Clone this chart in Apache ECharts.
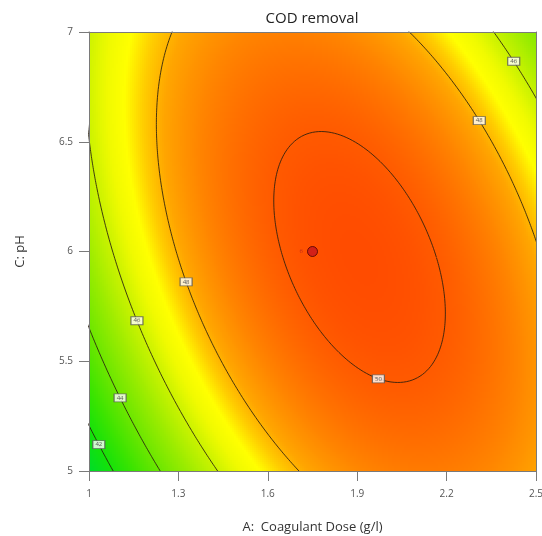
<!DOCTYPE html>
<html><head><meta charset="utf-8">
<script src="https://cdn.jsdelivr.net/npm/echarts@6/dist/echarts.min.js"></script>
<style>html,body{margin:0;padding:0;background:#fff}#chart{width:542px;height:536px}</style>
</head><body><div id="chart"></div>
<script>
// ---------- values ----------
const chartTitle = 'COD removal';
const xAxisTitle = 'A:  Coagulant Dose (g/l)';
const yAxisTitle = 'C: pH';
const xTicks = [1, 1.3, 1.6, 1.9, 2.2, 2.5];
const yTicks = [5, 5.5, 6, 6.5, 7];
const contourLevels = [42, 44, 46, 48, 50];
// points: A (g/l), pH, contour level
const obsA  = [1.282, 1.700, 2.075, 2.500, 1.327, 2.309,
               2.360, 2.500, 1.000, 1.430, 1.162, 2.426,
               1.000, 1.240, 1.108,
               1.000, 1.080, 1.036,
               1.617, 1.624, 1.658, 2.070, 2.107, 2.195, 2.178, 1.970, 1.842, 1.775];
const obsPH = [7.000, 5.000, 7.000, 6.050, 5.862, 6.595,
               7.000, 6.700, 6.500, 5.000, 5.685, 6.868,
               5.640, 5.000, 5.336,
               5.200, 5.000, 5.123,
               6.280, 6.140, 5.870, 6.235, 6.144, 5.780, 5.583, 5.430, 5.530, 6.530];
const obsLevel = [48, 48, 48, 48, 48, 48,
                  46, 46, 46, 46, 46, 46,
                  44, 44, 44,
                  42, 42, 42,
                  50, 50, 50, 50, 50, 50, 50, 50, 50, 50];
// contour label boxes (level, approximate A, pH)
const contourLabelLevels = [42, 44, 46, 48, 50, 48, 46];
const contourLabelA  = [1.036, 1.108, 1.162, 1.327, 1.970, 2.309, 2.426];
const contourLabelPH = [5.123, 5.336, 5.685, 5.862, 5.430, 6.595, 6.868];
// design (centre) point and its replicate count
const designPointA = [1.75];
const designPointPH = [6.0];
const designPointReps = [6];

// ---------- styling ----------
const colorStops = [[41,'#00dc28'],[42,'#14e10a'],[43,'#3ce400'],[44,'#69e600'],[45,'#96eb00'],
  [46,'#c8f200'],[46.7,'#f0fa00'],[47.2,'#ffff00'],[47.7,'#ffcd00'],[48.2,'#ffa500'],
  [49,'#ff8200'],[50,'#ff5a00'],[50.6,'#ff4600']];
const NX = 224, NY = 220;
const cx = designPointA[0], cy = designPointPH[0];

// ---------- least-squares quadratic surface through the contour readings ----------
function fitQuadratic() {
  const M = Array.from({length: 6}, () => new Array(7).fill(0));
  obsA.forEach((a, k) => {
    const x = a - cx, y = obsPH[k] - cy;
    const r = [1, x, y, x*x, y*y, x*y];
    for (let i = 0; i < 6; i++) {
      for (let j = 0; j < 6; j++) M[i][j] += r[i]*r[j];
      M[i][6] += r[i]*obsLevel[k];
    }
  });
  for (let i = 0; i < 6; i++) {
    let p = i;
    for (let k = i+1; k < 6; k++) if (Math.abs(M[k][i]) > Math.abs(M[p][i])) p = k;
    [M[i], M[p]] = [M[p], M[i]];
    for (let k = 0; k < 6; k++) {
      if (k === i) continue;
      const f = M[k][i] / M[i][i];
      for (let j = i; j < 7; j++) M[k][j] -= f*M[i][j];
    }
  }
  return M.map((row, i) => row[6] / row[i]);
}
const beta = fitQuadratic();
function response(A, pH) {
  const x = A - cx, y = pH - cy;
  return beta[0] + beta[1]*x + beta[2]*y + beta[3]*x*x + beta[4]*y*y + beta[5]*x*y;
}
// stationary point of the surface
const det = 4*beta[3]*beta[4] - beta[5]*beta[5];
const sx = (-2*beta[4]*beta[1] + beta[5]*beta[2]) / det;
const sy = (beta[5]*beta[1] - 2*beta[3]*beta[2]) / det;
const centre = [cx + sx, cy + sy];
const peak = response(centre[0], centre[1]);
function quad(u, v) { return -(beta[3]*u*u + beta[4]*v*v + beta[5]*u*v); }

const xMin = xTicks[0], xMax = xTicks[xTicks.length-1];
const yMin = yTicks[0], yMax = yTicks[yTicks.length-1];
const dA = (xMax - xMin) / NX, dP = (yMax - yMin) / NY;

const cells = [];
for (let i = 0; i < NX; i++) {
  const A = xMin + (i + 0.5) * dA;
  for (let j = 0; j < NY; j++) {
    const pH = yMin + (j + 0.5) * dP;
    cells.push([A, pH, response(A, pH)]);
  }
}

function hex2rgb(h){return [parseInt(h.slice(1,3),16),parseInt(h.slice(3,5),16),parseInt(h.slice(5,7),16)];}
function colorAt(val){
  for (let k = 0; k < colorStops.length-1; k++){
    const [v0,c0]=colorStops[k],[v1,c1]=colorStops[k+1];
    if (val <= v1 + 1e-9){
      const t=(val-v0)/(v1-v0), a=hex2rgb(c0), b=hex2rgb(c1);
      return 'rgb('+a.map((x,n)=>Math.round(x+(b[n]-x)*t)).join(',')+')';
    }
  }
  return colorStops[colorStops.length-1][1];
}
const vMin = colorStops[0][0], vMax = colorStops[colorStops.length-1][0];
const palette = [];
for (let v = vMin; v <= vMax + 1e-9; v += 0.1) palette.push(colorAt(v));

// contour lines = level sets of the fitted surface
const contourSeries = contourLevels.map(L => {
  const d = peak - L, pts = [];
  for (let k = 0; k <= 720; k++) {
    const t = k / 720 * 2 * Math.PI, cu = Math.cos(t), cv = Math.sin(t);
    const r = Math.sqrt(d / quad(cu, cv));
    pts.push([centre[0] + r*cu, centre[1] + r*cv]);
  }
  return {
    type: 'line', data: pts, showSymbol: false, symbol: 'none',
    clip: true, silent: true, z: 5, animation: false,
    lineStyle: { color: 'rgba(40,30,15,0.85)', width: 1 }
  };
});

const labelData = contourLabelLevels.map((L, k) => {
  const u = contourLabelA[k] - centre[0], v = contourLabelPH[k] - centre[1];
  const s = Math.sqrt((peak - L) / quad(u, v));
  return [centre[0] + s*u, centre[1] + s*v, L];
});

const axisGray = '#7a7a7a';
const option = {
  animation: false,
  textStyle: { fontFamily: 'Open Sans' },
  title: { text: chartTitle, left: 312, top: 11, textAlign: 'center', padding: 0,
    textStyle: { fontSize: 15, fontWeight: 'normal', color: '#222', fontFamily: 'Open Sans' } },
  grid: { left: 89, top: 32, width: 447, height: 439, show: false, outerBoundsMode: 'none', containLabel: false },
  visualMap: { type: 'continuous', show: false, seriesIndex: 0, dimension: 2, min: vMin, max: vMax, inRange: { color: palette } },
  xAxis: [
    { type: 'value', min: xMin, max: xMax, z: 10,
      name: xAxisTitle, nameLocation: 'middle', nameGap: 50,
      nameTextStyle: { fontSize: 13, color: '#333' },
      axisLine: { show: true, onZero: false, lineStyle: { color: axisGray } },
      axisTick: { show: true, length: 10, customValues: xTicks, lineStyle: { color: axisGray } },
      axisLabel: { customValues: xTicks, margin: 18, fontSize: 10, color: '#555' },
      splitLine: { show: false } },
    { type: 'value', position: 'top', min: xMin, max: xMax, z: 10,
      axisLine: { show: true, onZero: false, lineStyle: { color: axisGray } },
      axisTick: { show: false }, axisLabel: { show: false }, splitLine: { show: false } }
  ],
  yAxis: [
    { type: 'value', min: yMin, max: yMax, z: 10,
      name: yAxisTitle, nameLocation: 'middle', nameGap: 62,
      nameTextStyle: { fontSize: 13, color: '#333' },
      axisLine: { show: true, onZero: false, lineStyle: { color: axisGray } },
      axisTick: { show: true, length: 10, customValues: yTicks, lineStyle: { color: axisGray } },
      axisLabel: { customValues: yTicks, margin: 16, fontSize: 10, color: '#555' },
      splitLine: { show: false } },
    { type: 'value', position: 'right', min: yMin, max: yMax, z: 10,
      axisLine: { show: true, onZero: false, lineStyle: { color: axisGray } },
      axisTick: { show: false }, axisLabel: { show: false }, splitLine: { show: false } }
  ],
  series: [
    { type: 'custom', data: cells, encode: { x: 0, y: 1 }, progressive: 0, silent: true, z: 1, clip: true,
      renderItem: (params, api) => {
        const A = api.value(0), pH = api.value(1);
        const p0 = api.coord([A - dA/2, pH + dP/2]);
        const p1 = api.coord([A + dA/2, pH - dP/2]);
        const x0 = Math.floor(p0[0]), y0 = Math.floor(p0[1]);
        return { type: 'rect', shape: { x: x0, y: y0, width: Math.ceil(p1[0]) - x0, height: Math.ceil(p1[1]) - y0 },
          style: { fill: api.visual('color') } };
      } },
    ...contourSeries,
    { type: 'scatter', data: labelData, symbol: 'rect', symbolSize: [12, 8],
      z: 8, silent: true,
      itemStyle: { color: '#fff', borderColor: '#555', borderWidth: 1 },
      label: { show: true, position: 'inside', formatter: p => String(p.value[2]), fontSize: 6, color: '#333' } },
    { type: 'scatter',
      data: designPointA.map((a, k) => [a, designPointPH[k], designPointReps[k]]),
      symbol: 'circle', symbolSize: 10, z: 9, silent: true,
      itemStyle: { color: '#c8141e', borderColor: '#4a0000', borderWidth: 1 },
      label: { show: true, position: 'left', distance: 4, formatter: p => String(p.value[2]), fontSize: 6, color: '#b02020' } }
  ]
};
const chart = echarts.init(document.getElementById('chart'), null, { renderer: 'canvas' });
chart.setOption(option);
</script></body></html>
